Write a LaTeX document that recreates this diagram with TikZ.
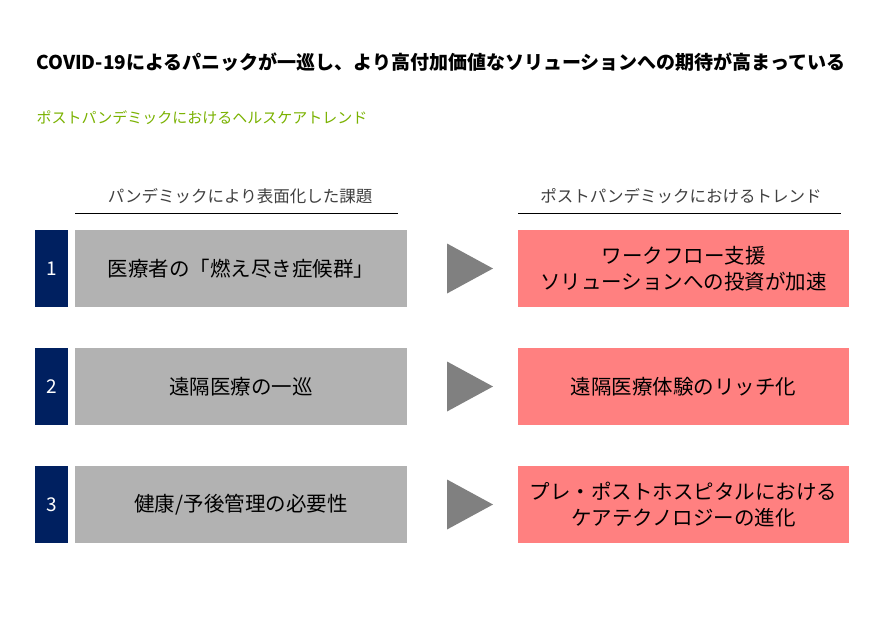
\documentclass[tikz,border=0pt]{standalone}
\usepackage{fontspec}
\setmainfont{Noto Sans CJK JP}
\begin{document}
\begin{tikzpicture}[x=1pt,y=-1pt,
  num/.style={fill={rgb,255:red,0;green,32;blue,96},text=white,minimum width=33pt,minimum height=77pt,inner sep=0pt,font=\fontsize{19}{22}\selectfont},
  issue/.style={fill={rgb,255:red,178;green,178;blue,178},minimum width=332pt,minimum height=77pt,inner sep=0pt,font=\fontsize{20.5}{24}\selectfont},
  trend/.style={fill={rgb,255:red,255;green,128;blue,128},minimum width=331pt,minimum height=77pt,inner sep=0pt,align=center,font=\fontsize{20.5}{26}\selectfont},
  tri/.style={fill={rgb,255:red,128;green,128;blue,128}},
  hdr/.style={font=\fontsize{16.5}{19}\selectfont,text={rgb,255:red,64;green,64;blue,64}}]
\useasboundingbox[fill=white] (0,0) rectangle (893,629);
\node[anchor=west,font=\bfseries\fontsize{19}{23}\selectfont] (title) at (33,62) {COVID-19によるパニックが一巡し、より高付加価値なソリューションへの期待が高まっている};
\node[anchor=west,font=\fontsize{15}{18}\selectfont,text={rgb,255:red,122;green,178;blue,0}] (sub) at (33,118) {ポストパンデミックにおけるヘルスケアトレンド};
\node[hdr] (h1) at (240,196) {パンデミックにより表面化した課題};
\node[hdr] (h2) at (681,196) {ポストパンデミックにおけるトレンド};
\draw[line width=0.8pt] (75,213) -- (398,213);
\draw[line width=0.8pt] (518,213) -- (841,213);
\foreach \i/\y/\a/\b in {1/268.5/{医療者の「燃え尽き症候群」}/{ワークフロー支援\\ソリューションへの投資が加速},2/386.5/{遠隔医療の一巡}/{遠隔医療体験のリッチ化},3/504.5/{健康/予後管理の必要性}/{プレ・ポストホスピタルにおける\\ケアテクノロジーの進化}}{
  \node[num] (n\i) at (51.5,\y) {\i};
  \node[issue] (s\i) at (241,\y) {\a};
  \node[trend] (t\i) at (683.5,\y) {\b};
  \fill[tri] (447,\y-25) -- (493,\y) -- (447,\y+25) -- cycle;
}
\end{tikzpicture}
\end{document}
